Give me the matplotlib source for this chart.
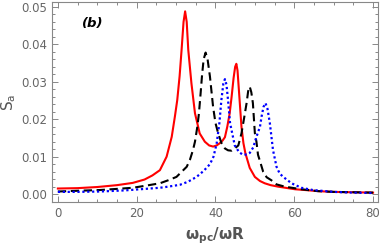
import numpy as np
import matplotlib.pyplot as plt
from matplotlib.ticker import MultipleLocator

# values
x_red = [0, 5, 10, 15, 19, 22, 24, 25.9, 27.6, 28.9, 29.7, 30.3, 30.9, 31.4, 31.9, 32.3,
         32.7, 33.1, 33.9, 34.8, 36.0, 37.3, 38.4, 39.4, 40.3, 41.1, 41.8, 42.4, 43.0,
         43.6, 44.1, 44.6, 45.0, 45.3, 45.6, 46.0, 46.6, 47.1, 47.6, 48.7, 50.0, 51.3,
         52.5, 54.0, 55.9, 60.2, 62.7, 66, 70, 75, 80]
y_red = [0.0015, 0.0016, 0.0019, 0.0024, 0.0030, 0.0039, 0.0050, 0.0064, 0.0100, 0.0153,
         0.0207, 0.0251, 0.0315, 0.0385, 0.0460, 0.0488, 0.0460, 0.0385, 0.0296, 0.0216,
         0.0162, 0.0140, 0.0130, 0.0127, 0.0130, 0.0136, 0.0143, 0.0152, 0.0180, 0.0215,
         0.0260, 0.0310, 0.0340, 0.0348, 0.0330, 0.0270, 0.0180, 0.0136, 0.0109, 0.0070,
         0.0046, 0.0035, 0.0029, 0.0024, 0.0020, 0.0013, 0.0011, 0.0008, 0.0006, 0.0005,
         0.0004]

x_blk = [0, 5, 10.7, 15, 19, 22, 25.9, 28, 30.1, 32.7, 33.5, 34.3, 34.8, 35.4, 35.8, 36.2,
         36.6, 37.0, 37.5, 38.0, 38.6, 39.4, 40.0, 40.7, 41.5, 42.4, 43.2, 44.1, 44.9,
         45.8, 46.6, 47.3, 47.9, 48.3, 48.7, 49.1, 49.5, 50.0, 50.4, 50.8, 51.3, 52.1,
         53.0, 54.2, 55.5, 57.6, 61.8, 66, 70, 75, 80]
y_blk = [0.0007, 0.0009, 0.0011, 0.0014, 0.0017, 0.0022, 0.0029, 0.0037, 0.0046, 0.0073,
         0.0091, 0.0118, 0.0140, 0.0180, 0.0215, 0.0265, 0.0318, 0.0360, 0.0378, 0.0360,
         0.0314, 0.0233, 0.0190, 0.0162, 0.0137, 0.0122, 0.0117, 0.0116, 0.0122, 0.0130,
         0.0162, 0.0205, 0.0243, 0.0275, 0.0287, 0.0272, 0.0243, 0.0163, 0.0140, 0.0105,
         0.0088, 0.0060, 0.0045, 0.0037, 0.0026, 0.0020, 0.0013, 0.0008, 0.0006, 0.0005,
         0.0004]

x_blu = [0, 5, 10.7, 17, 23.4, 25.9, 28, 31, 33, 35.2, 37, 38.6, 39.5, 40.3, 41.0, 41.5,
         42.0, 42.4, 42.8, 43.2, 43.7, 44.5, 44.9, 46.0, 47.0, 48.0, 48.7, 49.6, 50.4,
         51.3, 51.7, 52.2, 52.7, 53.2, 53.8, 54.6, 55.5, 56.3, 57.2, 59.3, 61.8, 64.7,
         70, 75, 80]
y_blu = [0.0006, 0.0006, 0.0007, 0.0010, 0.0015, 0.0017, 0.0020, 0.0025, 0.0033, 0.0046,
         0.0062, 0.0080, 0.0100, 0.0135, 0.0190, 0.0251, 0.0295, 0.0307, 0.0292, 0.0250,
         0.0190, 0.0150, 0.0130, 0.0112, 0.0105, 0.0106, 0.0110, 0.0125, 0.0153, 0.0180,
         0.0207, 0.0233, 0.0243, 0.0228, 0.0190, 0.0118, 0.0073, 0.0055, 0.0046, 0.0029,
         0.0017, 0.0011, 0.0006, 0.0004, 0.0003]

fig = plt.figure(figsize=(3.82, 2.5), dpi=100)
ax = fig.add_axes([0.136, 0.192, 0.854, 0.8])

ax.plot(x_red, y_red, color="#ff0000", lw=1.5, solid_joinstyle="round")
ax.plot(x_blk, y_blk, color="black", lw=1.5, ls=(0, (4, 2.2)))
ax.plot(x_blu, y_blu, color="#0000ff", lw=1.6, ls=(0, (1, 1.2)))

ax.set_xlim(-1.5, 81.3)
ax.set_ylim(-0.0021, 0.0513)

grey = "#888888"
ax.xaxis.set_major_locator(MultipleLocator(20))
ax.xaxis.set_minor_locator(MultipleLocator(5))
ax.yaxis.set_major_locator(MultipleLocator(0.01))
ax.yaxis.set_minor_locator(MultipleLocator(0.002))
ax.yaxis.set_major_formatter(plt.FuncFormatter(lambda v, p: f"{v:.2f}"))
ax.tick_params(which="both", direction="in", top=True, right=True, color=grey,
               labelcolor="#666666", labelsize=8.5, width=0.7)
ax.tick_params(which="major", length=4)
ax.tick_params(which="minor", length=2)
for s in ax.spines.values():
    s.set_color(grey)
    s.set_linewidth(0.8)

ax.set_xlabel(r"$\mathbf{\omega_{pc}/\omega R}$", color="#555555", fontsize=11, labelpad=4)
ax.set_ylabel(r"$\mathsf{S_a}$", color="#555555", fontsize=11, labelpad=2)
ax.text(6, 0.0445, "(b)", fontsize=9.5, fontweight="bold", fontstyle="italic")

fig.savefig("out.png", dpi=100)
